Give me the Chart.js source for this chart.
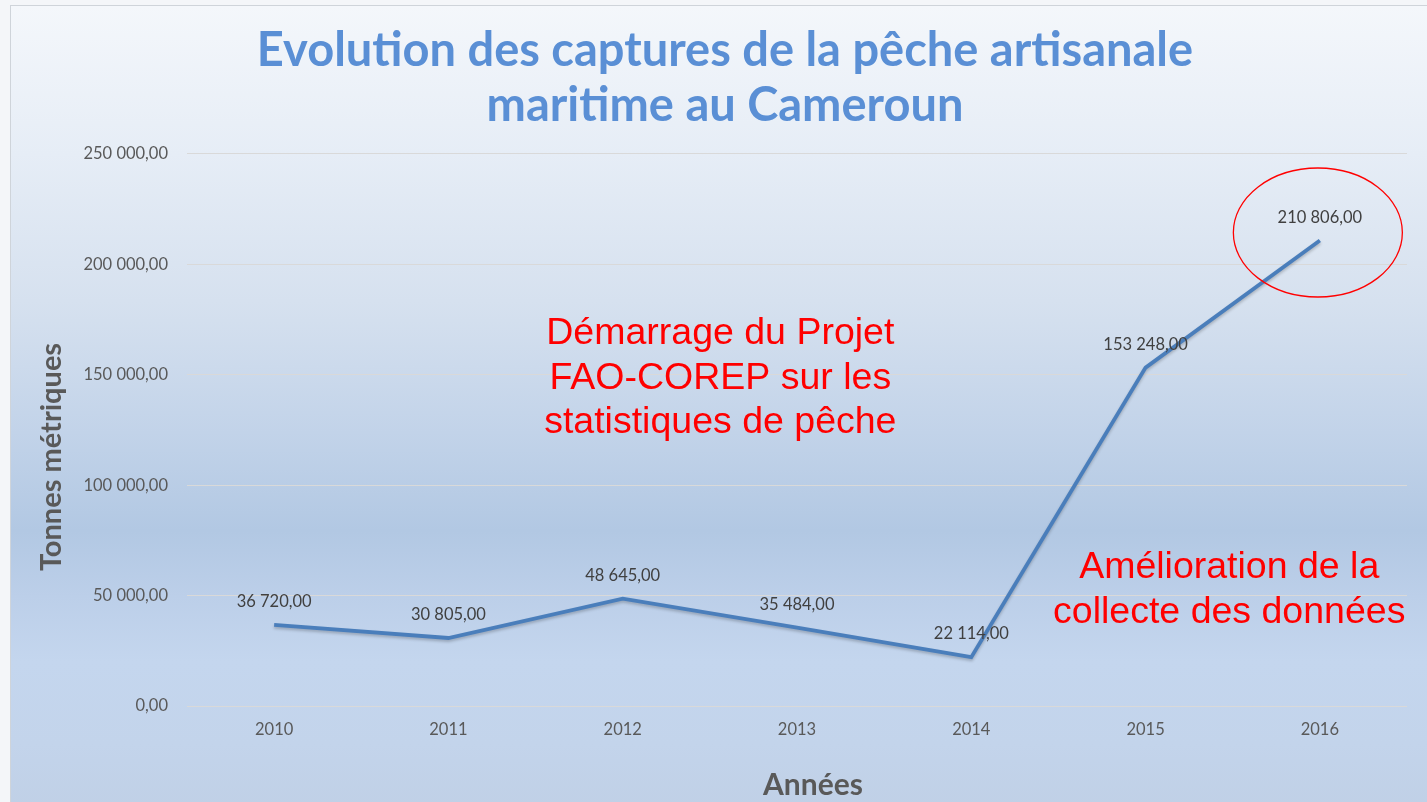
<!DOCTYPE html>
<html lang="fr">
<head>
<meta charset="utf-8">
<title>Evolution des captures de la pêche artisanale maritime au Cameroun</title>
<script src="https://cdn.jsdelivr.net/npm/chart.js@4/dist/chart.umd.min.js"></script>
<style>
  html, body { margin: 0; padding: 0; background: #f4f6f9; overflow: hidden; }
  #frame {
    position: absolute; left: 10px; top: 5px; width: 1440px; height: 820px;
    border: 1px solid #cfd4da;
    background: linear-gradient(to bottom,
      #f4f7fb 0%, #e6edf6 18%, #d6e1ef 36%, #c2d3e9 52%,
      #b2c8e3 64%, #bccfe9 72%, #c4d6ee 80%, #c3d4eb 90%, #bfcfe5 100%);
  }
  #chart { position: absolute; left: 0; top: 0; }
</style>
</head>
<body>
<div id="frame"></div>
<canvas id="chart" width="1427" height="802"></canvas>
<script>
// Captures de la pêche artisanale maritime (tonnes métriques)
const years = ['2010', '2011', '2012', '2013', '2014', '2015', '2016']
const catches = [36720, 30805, 48645, 35484, 22114, 153248, 210806]
const yTicks = [0, 50000, 100000, 150000, 200000, 250000]

const xTitle = 'Années'
const yTitle = 'Tonnes métriques'

// "36 720,00" style
function frNumber(v) {
  const parts = v.toFixed(2).split('.')
  const int = parts[0].replace(/\B(?=(\d{3})+(?!\d))/g, ' ')
  return int + ',' + parts[1]
}

// red notes drawn on top of the plot, placed in data units
const notes = [
  { lines: ['Démarrage du Projet', 'FAO-COREP sur les', 'statistiques de pêche'], x: 2.56, y: 168500 },
  { lines: ['Amélioration de la', 'collecte des données'], x: 5.48, y: 62500 }
]

const labelPlugin = {
  id: 'pointLabels',
  beforeDatasetDraw(chart) {
    const ctx = chart.ctx
    ctx.save()
    ctx.shadowColor = 'rgba(0, 0, 0, 0.22)'
    ctx.shadowBlur = 3
    ctx.shadowOffsetY = 2
  },
  afterDatasetDraw(chart) {
    chart.ctx.restore()
  },
  afterDatasetsDraw(chart) {
    const ctx = chart.ctx
    const meta = chart.getDatasetMeta(0)
    ctx.save()
    ctx.font = '16.5px Lato'
    ctx.fillStyle = '#404040'
    ctx.textAlign = 'center'
    ctx.textBaseline = 'middle'
    meta.data.forEach((pt, i) => {
      ctx.fillText(frNumber(catches[i]), pt.x, pt.y - 23)
    })
    ctx.restore()
  }
}

// axis titles sit a little off-centre in the original, so they are drawn here
const axisTitlePlugin = {
  id: 'axisTitles',
  afterDraw(chart) {
    const ctx = chart.ctx
    const area = chart.chartArea
    ctx.save()
    ctx.fillStyle = '#595959'
    ctx.textAlign = 'center'
    ctx.textBaseline = 'middle'
    ctx.font = 'bold 30px Lato'
    ctx.fillText(xTitle, (area.left + area.right) / 2 + 16, 785)
    ctx.font = 'bold 29px Lato'
    ctx.translate(52, (area.top + area.bottom) / 2 + 27)
    ctx.rotate(-Math.PI / 2)
    ctx.fillText(yTitle, 0, 0)
    ctx.restore()
  }
}

const notesPlugin = {
  id: 'notes',
  afterDraw(chart) {
    const ctx = chart.ctx
    const xs = chart.scales.x
    const ys = chart.scales.y
    ctx.save()
    ctx.font = '37.5px "Liberation Sans"'
    ctx.fillStyle = '#ff0000'
    ctx.textAlign = 'center'
    ctx.textBaseline = 'middle'
    notes.forEach(n => {
      const cx = xs.getPixelForValue(n.x)
      const cy = ys.getPixelForValue(n.y)
      n.lines.forEach((line, i) => ctx.fillText(line, cx, cy + i * 44.5))
    })

    // circle round the last value
    const last = catches.length - 1
    const ex = xs.getPixelForValue(last) - 2
    const ey = ys.getPixelForValue(catches[last]) - 8
    ctx.strokeStyle = '#ff0000'
    ctx.lineWidth = 1.3
    ctx.beginPath()
    ctx.ellipse(ex, ey, 84.5, 64.5, 0, 0, Math.PI * 2)
    ctx.stroke()
    ctx.restore()
  }
}

new Chart(document.getElementById('chart'), {
  type: 'line',
  data: {
    labels: years,
    datasets: [{
      data: catches,
      borderColor: '#4a7ebb',
      borderWidth: 3.8,
      pointRadius: 0,
      tension: 0,
      fill: false
    }]
  },
  options: {
    responsive: false,
    animation: false,
    layout: { padding: { left: 43, right: 20, top: 0, bottom: 0 } },
    plugins: {
      legend: { display: false },
      tooltip: { enabled: false },
      title: {
        display: true,
        text: ['Evolution des captures de la pêche artisanale', 'maritime au Cameroun'],
        color: '#5a8fd5',
        font: { family: 'Lato', weight: 'bold', size: 47, lineHeight: 1.17 },
        padding: { top: 23, bottom: 21 }
      }
    },
    scales: {
      x: {
        offset: true,
        grid: { display: false },
        border: { display: false },
        ticks: { color: '#595959', font: { family: 'Lato', size: 16.5 }, padding: 6 },
        afterFit(scale) { scale.height = 96 }
      },
      y: {
        min: 0,
        max: 250000,
        afterBuildTicks(scale) { scale.ticks = yTicks.map(v => ({ value: v })) },
        grid: { color: '#d9d9d9', lineWidth: 1, drawTicks: false },
        border: { display: false },
        ticks: {
          color: '#595959',
          font: { family: 'Lato', size: 16.5 },
          padding: 19,
          callback: v => frNumber(v)
        },
        afterFit(scale) { scale.width = 144 }
      }
    }
  },
  plugins: [labelPlugin, axisTitlePlugin, notesPlugin]
})
</script>
</body>
</html>
